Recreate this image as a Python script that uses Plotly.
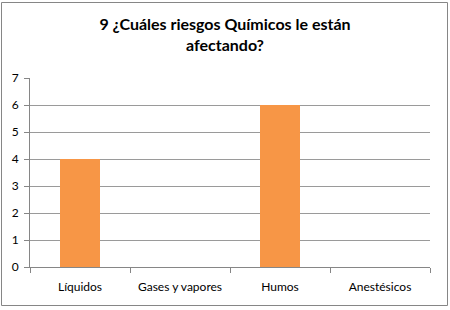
import plotly.graph_objects as go

categories = ["Líquidos", "Gases y vapores", "Humos", "Anestésicos"]
values = [4, 0, 6, 0]
y_ticks = [0, 1, 2, 3, 4, 5, 6, 7]

W, H = 450, 310
ml, mr, mt, mb = 30, 20, 78, 43
pw, ph = W - ml - mr, H - mt - mb

fig = go.Figure(go.Bar(x=categories, y=values, marker=dict(color="#F79646", line=dict(width=0))))

fig.update_layout(
    width=W, height=H,
    margin=dict(l=ml, r=mr, t=mt, b=mb),
    paper_bgcolor="white", plot_bgcolor="white",
    bargap=0.6,
    showlegend=False,
    font=dict(family="Lato, Open Sans, sans-serif", size=12, color="#000000"),
    title=dict(
        text="<b>9 ¿Cuáles riesgos Químicos le están<br>afectando?</b>",
        x=0.5, xanchor="center", y=0.902, yanchor="top",
        font=dict(size=16, family="Lato, Open Sans, sans-serif", color="#000000"),
    ),
    xaxis=dict(
        showline=True, linecolor="#868686", linewidth=1,
        ticks="outside", tickson="boundaries", ticklen=5, tickcolor="#868686",
        showgrid=False, tickfont=dict(size=12), ticklabelstandoff=9,
    ),
    yaxis=dict(
        range=[0, 7], tickvals=y_ticks,
        showline=True, linecolor="#868686", linewidth=1,
        ticks="outside", ticklen=5, tickcolor="#868686",
        showgrid=True, gridcolor="#9a9a9a", gridwidth=1,
        zeroline=False, tickfont=dict(size=12), ticklabelstandoff=3,
    ),
    shapes=[dict(
        type="rect", xref="paper", yref="paper",
        x0=(1.5 - ml) / pw, x1=(447.5 - ml) / pw,
        y0=(H - mb - 305.5) / ph, y1=(H - mb - 2.5) / ph,
        line=dict(color="#868686", width=1), fillcolor="rgba(0,0,0,0)", layer="below",
    )],
)

fig.write_html("out.html")
